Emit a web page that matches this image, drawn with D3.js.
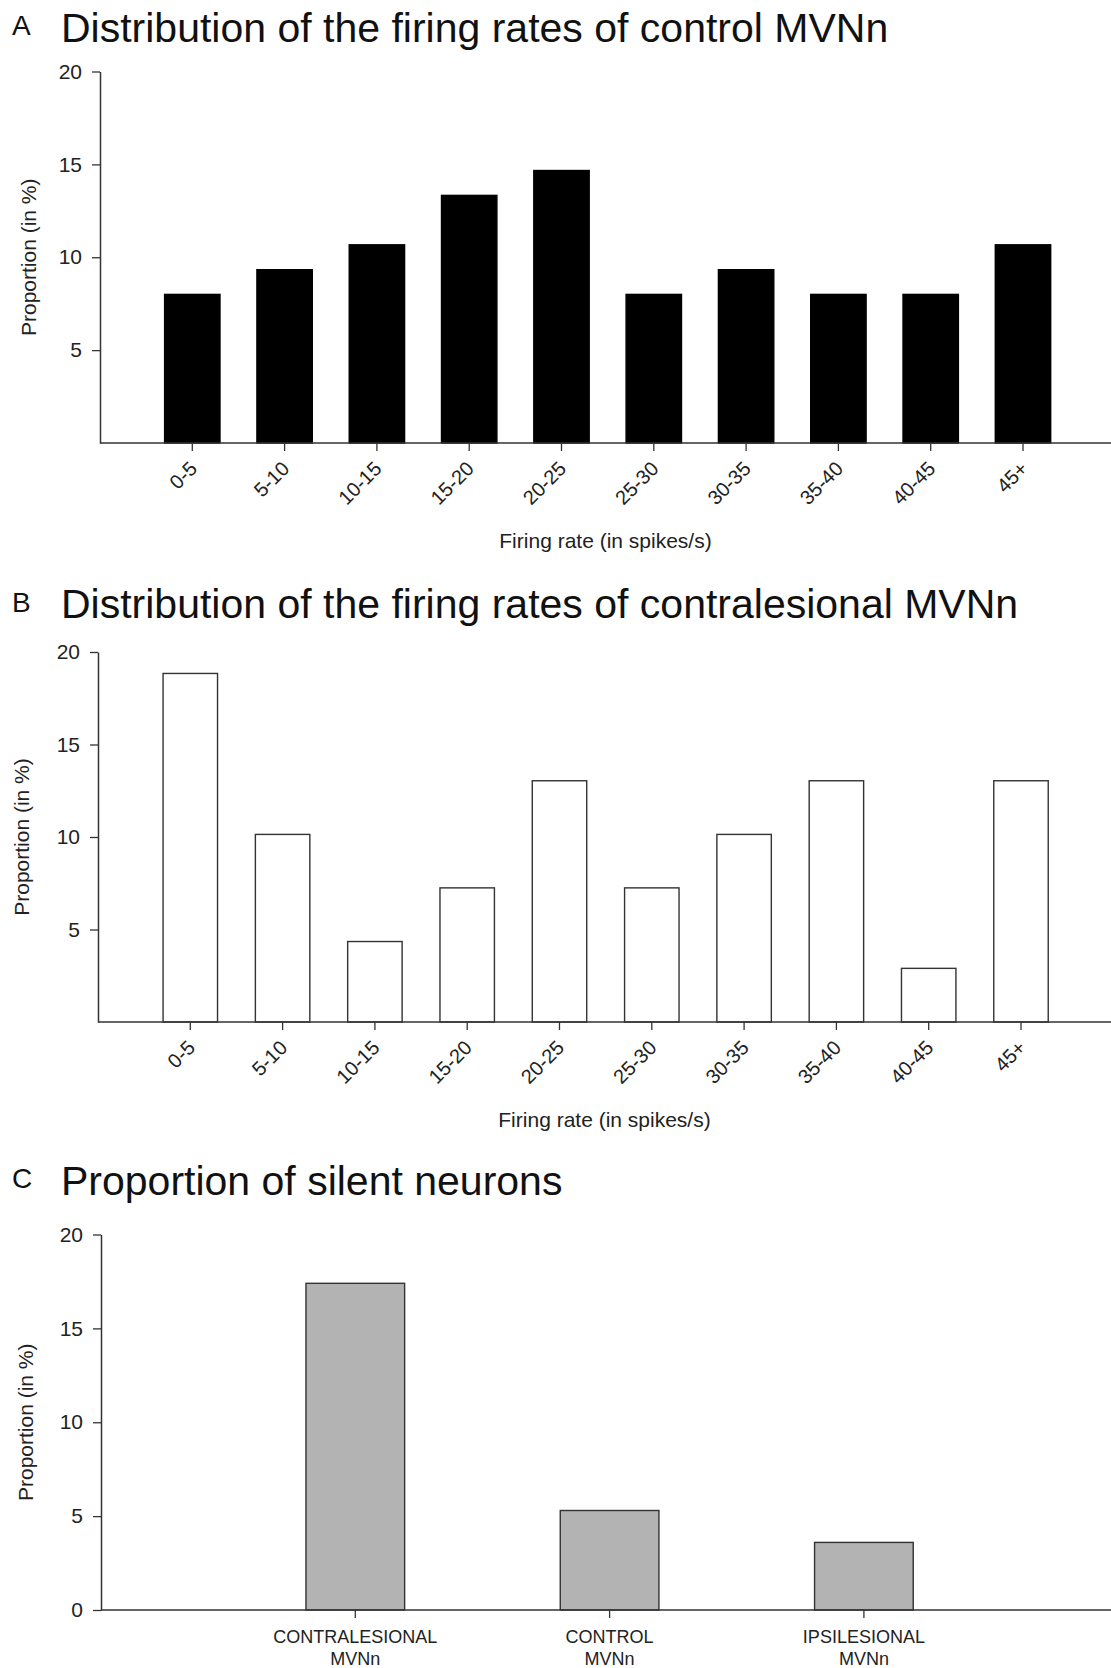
<!DOCTYPE html>
<html>
<head>
<meta charset="utf-8">
<script src="https://cdn.jsdelivr.net/npm/d3@7"></script>
<style>
  body { margin: 0; background: #fff; }
  svg { display: block; font-family: "Liberation Sans", Arial, sans-serif; }
</style>
</head>
<body>
<svg id="chart" width="1111" height="1668"></svg>
<script>
// firing-rate bins (spikes/s)
const rateBins = ['0-5', '5-10', '10-15', '15-20', '20-25', '25-30', '30-35', '35-40', '40-45', '45+'];
// proportion of neurons per bin, in %
const controlRates = [8.0, 9.33, 10.67, 13.33, 14.67, 8.0, 9.33, 8.0, 8.0, 10.67];
const contraRates = [18.84, 10.14, 4.35, 7.25, 13.04, 7.25, 10.14, 13.04, 2.9, 13.04];
// silent neurons
const silentGroups = ['CONTRALESIONAL', 'CONTROL', 'IPSILESIONAL'];
const silentRates = [17.4, 5.3, 3.6];
const histTicks = [5, 10, 15, 20];
const silentTicks = [0, 5, 10, 15, 20];

const W = 1111;
const svg = d3.select('#chart');

function panel(opt) {
  const g = svg.append('g');
  const n = opt.cats.length;

  const x = d3.scaleBand()
    .domain(opt.cats)
    .range([opt.x0 + opt.step / 2, opt.x0 + opt.step * (n + 0.5)])
    .paddingInner(opt.pad)
    .paddingOuter(opt.pad / 2);
  const y = d3.scaleLinear().domain([0, 20]).range([opt.y0, opt.y20]);

  g.append('text')
    .attr('x', 12).attr('y', opt.letterY)
    .attr('font-size', 28).attr('fill', '#111')
    .text(opt.letter);
  g.append('text')
    .attr('x', 61).attr('y', opt.titleY)
    .attr('font-size', 41).attr('fill', '#111')
    .text(opt.title);

  g.selectAll('rect.bar')
    .data(opt.values)
    .join('rect')
    .attr('class', 'bar')
    .attr('x', (d, i) => x(opt.cats[i]))
    .attr('y', d => y(d))
    .attr('width', x.bandwidth())
    .attr('height', d => y(0) - y(d))
    .attr('fill', opt.fill)
    .attr('stroke', opt.stroke)
    .attr('stroke-width', 1.4);

  // y axis
  const ya = g.append('g')
    .attr('transform', `translate(${opt.x0},0)`)
    .call(d3.axisLeft(y).tickValues(opt.yTicks).tickSize(8).tickPadding(10).tickSizeOuter(0));
  ya.select('.domain').attr('stroke', '#333').attr('stroke-width', 1.5);
  ya.selectAll('.tick line').attr('stroke', '#333').attr('stroke-width', 1.3);
  ya.selectAll('.tick text')
    .attr('font-size', 21).attr('fill', '#222')
    .attr('font-family', '"Liberation Sans", Arial, sans-serif');

  // x axis
  const xa = g.append('g')
    .attr('transform', `translate(0,${opt.y0})`)
    .call(d3.axisBottom(x).tickSize(8).tickSizeOuter(0));
  xa.select('.domain').remove();
  xa.append('line')
    .attr('x1', opt.x0).attr('x2', W)
    .attr('stroke', '#333').attr('stroke-width', 1.5);
  xa.selectAll('.tick line').attr('stroke', '#333').attr('stroke-width', 1.3);
  const xt = xa.selectAll('.tick text')
    .attr('fill', '#222')
    .attr('font-family', '"Liberation Sans", Arial, sans-serif');

  if (opt.rotate) {
    xt.attr('font-size', 20)
      .attr('x', 0).attr('y', 0).attr('dy', '0.35em')
      .attr('text-anchor', 'end')
      .attr('transform', 'translate(1,22) rotate(-45)');
  } else {
    xt.attr('font-size', 18).text(null);
    xt.each(function (d) {
      const t = d3.select(this);
      t.attr('y', 0).attr('dy', null);
      t.append('tspan').attr('x', 0).attr('y', 33).text(d);
      t.append('tspan').attr('x', 0).attr('y', 55).text('MVNn');
    });
  }

  if (opt.xLabel) {
    g.append('text')
      .attr('x', (opt.x0 + W) / 2).attr('y', opt.y0 + 105)
      .attr('text-anchor', 'middle')
      .attr('font-size', 21).attr('fill', '#222')
      .text(opt.xLabel);
  }

  g.append('text')
    .attr('transform', `translate(${opt.labelX},${(opt.y0 + opt.y20) / 2}) rotate(-90)`)
    .attr('text-anchor', 'middle')
    .attr('font-size', 21).attr('fill', '#222')
    .text('Proportion (in %)');
}

panel({
  letter: 'A', letterY: 35, title: 'Distribution of the firing rates of control MVNn', titleY: 42,
  cats: rateBins, values: controlRates, fill: '#000', stroke: '#000',
  x0: 100, step: 92.3, pad: 0.4, y0: 443, y20: 71.5, yTicks: histTicks,
  rotate: true, xLabel: 'Firing rate (in spikes/s)', labelX: 36
});

panel({
  letter: 'B', letterY: 612, title: 'Distribution of the firing rates of contralesional MVNn', titleY: 618,
  cats: rateBins, values: contraRates, fill: '#fff', stroke: '#333',
  x0: 98, step: 92.3, pad: 0.41, y0: 1022, y20: 652, yTicks: histTicks,
  rotate: true, xLabel: 'Firing rate (in spikes/s)', labelX: 29
});

panel({
  letter: 'C', letterY: 1188, title: 'Proportion of silent neurons', titleY: 1195,
  cats: silentGroups, values: silentRates, fill: '#b3b3b3', stroke: '#333',
  x0: 101, step: 254.3, pad: 0.612, y0: 1610, y20: 1234.5, yTicks: silentTicks,
  rotate: false, xLabel: null, labelX: 33
});
</script>
</body>
</html>
